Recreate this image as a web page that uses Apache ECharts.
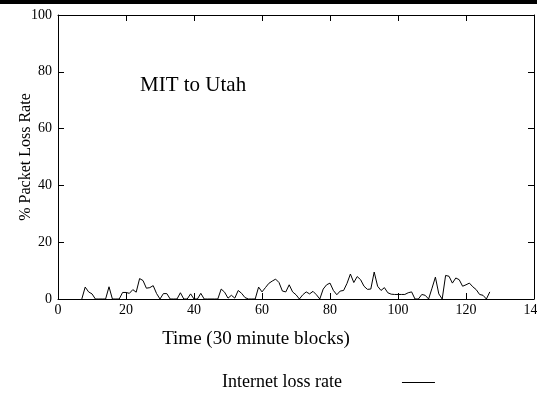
<!DOCTYPE html>
<html><head><meta charset="utf-8">
<script src="https://cdn.jsdelivr.net/npm/echarts@6/dist/echarts.min.js"></script>
<style>html,body{margin:0;padding:0;background:#fff}#c{width:537px;height:396px}</style>
</head><body><div id="c"></div>
<script>
var startBlock = 7;
var lossRate = [0,4.2,2.5,1.8,0,0,0,0,4.3,0,0,0,2.3,2.3,2.0,3.3,2.4,7.2,6.5,3.8,4.0,4.7,1.9,0,1.9,1.9,0,0,0,2.2,0,0,1.8,0,0,2.0,0,0,0,0,0,3.5,2.4,0.3,1.3,0.3,3.0,2.0,0.5,0,0,0,4.2,2.5,4.0,5.5,6.3,7.0,5.8,2.8,2.5,5.0,2.5,1.5,0,1.5,2.5,1.8,2.7,1.5,0,3.5,5.0,5.6,3.0,1.5,2.8,3.0,5.5,8.8,5.8,7.9,6.8,4.5,3.4,3.5,9.5,4.5,3.0,4.0,2.2,1.7,1.6,1.6,1.6,1.6,2.2,2.5,0,0,1.6,1.3,0,3.8,7.7,1.8,0,8.3,8.0,5.6,7.4,6.8,4.5,5.0,5.6,4.3,3.3,1.6,1.3,0,2.5];
var xTicks = {min:0, max:140, interval:20};
var yTicks = {min:0, max:100, interval:20};
var seriesName = 'Internet loss rate';
var titleText = 'MIT to Utah';
var xName = 'Time (30 minute blocks)';
var yName = '% Packet Loss Rate';

var data = lossRate.map(function(v,i){return [startBlock+i, v];});
var font = 'Liberation Serif';
var chart = echarts.init(document.getElementById('c'), null, {renderer:'canvas'});
var tickStyle = {show:true, inside:true, length:6, lineStyle:{color:'#000', width:1}};
var lineStyle = {show:true, onZero:false, lineStyle:{color:'#000', width:1}};
chart.setOption({
  animation:false,
  backgroundColor:'#fff',
  title:{text:titleText, left:135, top:70, textStyle:{fontFamily:font, fontSize:21, fontWeight:'normal', color:'#000'}},
  graphic:[{type:'rect', shape:{x:0,y:0,width:537,height:4}, style:{fill:'#000'}}],
  grid:{left:58, right:3, top:15, bottom:97, containLabel:false, outerBoundsMode:'none'},
  legend:{data:[seriesName], left:217, top:368.5, align:'right', itemWidth:33, itemHeight:1,
    icon:'path://M0,0L33,0L33,1L0,1Z', itemStyle:{color:'#000'},
    textStyle:{fontFamily:font, fontSize:18, color:'#000', padding:[0,55,0,0]}},
  xAxis:[{type:'value', min:xTicks.min, max:xTicks.max, interval:xTicks.interval,
    axisLine:lineStyle, axisTick:tickStyle, splitLine:{show:false},
    axisLabel:{fontFamily:font, fontSize:14, color:'#000', margin:4},
    name:xName, nameLocation:'middle', nameGap:31, nameMoveOverlap:false,
    nameTextStyle:{fontFamily:font, fontSize:19, color:'#000', padding:[0,80,0,0]}},
   {type:'value', position:'top', min:xTicks.min, max:xTicks.max, interval:xTicks.interval,
    axisLine:lineStyle, axisTick:tickStyle, axisLabel:{show:false}, splitLine:{show:false}}],
  yAxis:[{type:'value', min:yTicks.min, max:yTicks.max, interval:yTicks.interval,
    axisLine:lineStyle, axisTick:tickStyle, splitLine:{show:false},
    axisLabel:{fontFamily:font, fontSize:14, color:'#000', margin:6},
    name:yName, nameLocation:'middle', nameGap:24, nameMoveOverlap:false,
    nameTextStyle:{fontFamily:font, fontSize:16, color:'#000'}},
   {type:'value', position:'right', min:yTicks.min, max:yTicks.max, interval:yTicks.interval,
    axisLine:lineStyle, axisTick:tickStyle, axisLabel:{show:false}, splitLine:{show:false}}],
  series:[{type:'line', name:seriesName, data:data, xAxisIndex:0, yAxisIndex:0, symbol:'none',
    lineStyle:{color:'#000', width:1}, itemStyle:{color:'#000'}}]
});
</script></body></html>
